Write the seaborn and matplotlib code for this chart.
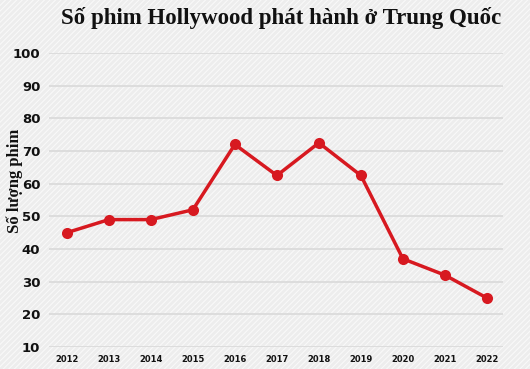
import pandas as pd
import seaborn as sns
import matplotlib.pyplot as plt
from matplotlib.patches import Rectangle

# Data
years = [2012, 2013, 2014, 2015, 2016, 2017, 2018, 2019, 2020, 2021, 2022]
films = [45, 49, 49, 52, 72, 62.5, 72.5, 62.5, 37, 32, 25]
yticks = [10, 20, 30, 40, 50, 60, 70, 80, 90, 100]

df = pd.DataFrame({"year": years, "films": films})

sns.set_theme(style="white")
plt.rcParams["font.family"] = ["DejaVu Sans"]
plt.rcParams["hatch.color"] = "#f9f9f9"
plt.rcParams["hatch.linewidth"] = 0.8

fig = plt.figure(figsize=(5.3, 3.69), dpi=100)
fig.patch.set_facecolor("#ededed")

# hatched paper-like background, behind everything
bg = fig.add_axes([0, 0, 1, 1], zorder=-10)
bg.set_axis_off()
bg.add_patch(Rectangle((0, 0), 1, 1, transform=bg.transAxes, facecolor="#ededed",
                       edgecolor="#f9f9f9", hatch="//////", linewidth=0))

ax = fig.add_axes([0.092, 0.0596, 0.857, 0.7968])
ax.set_facecolor("none")

sns.lineplot(data=df, x="year", y="films", ax=ax, color="#d71920", linewidth=2.5,
             marker="o", markersize=8, markeredgewidth=0, clip_on=False)

ax.set_xlim(2011.571, 2022.381)
ax.set_ylim(10, 100)
ax.set_yticks(yticks)
ax.set_xticks(years)
ax.grid(axis="y", color="#d9d9d9", linewidth=1.2)
for s in ax.spines.values():
    s.set_visible(False)
ax.tick_params(axis="y", length=0, pad=6, labelsize=9.5)
ax.tick_params(axis="x", length=0, pad=6, labelsize=6)
for lbl in ax.get_yticklabels() + ax.get_xticklabels():
    lbl.set_fontweight("bold")
    lbl.set_color("#111111")

ax.set_xlabel("")
ax.set_ylabel("")
fig.text(0.027, 0.51, "Số lượng phim", rotation=90, ha="center", va="center",
         family="Liberation Serif", fontweight="bold", fontsize=12, color="#111111")

fig.text(0.53, 0.95, "Số phim Hollywood phát hành ở Trung Quốc", ha="center", va="center",
         family="Liberation Serif", fontweight="bold", fontsize=16.5, color="#111111")

fig.savefig("out.png", dpi=100, facecolor=fig.get_facecolor())
